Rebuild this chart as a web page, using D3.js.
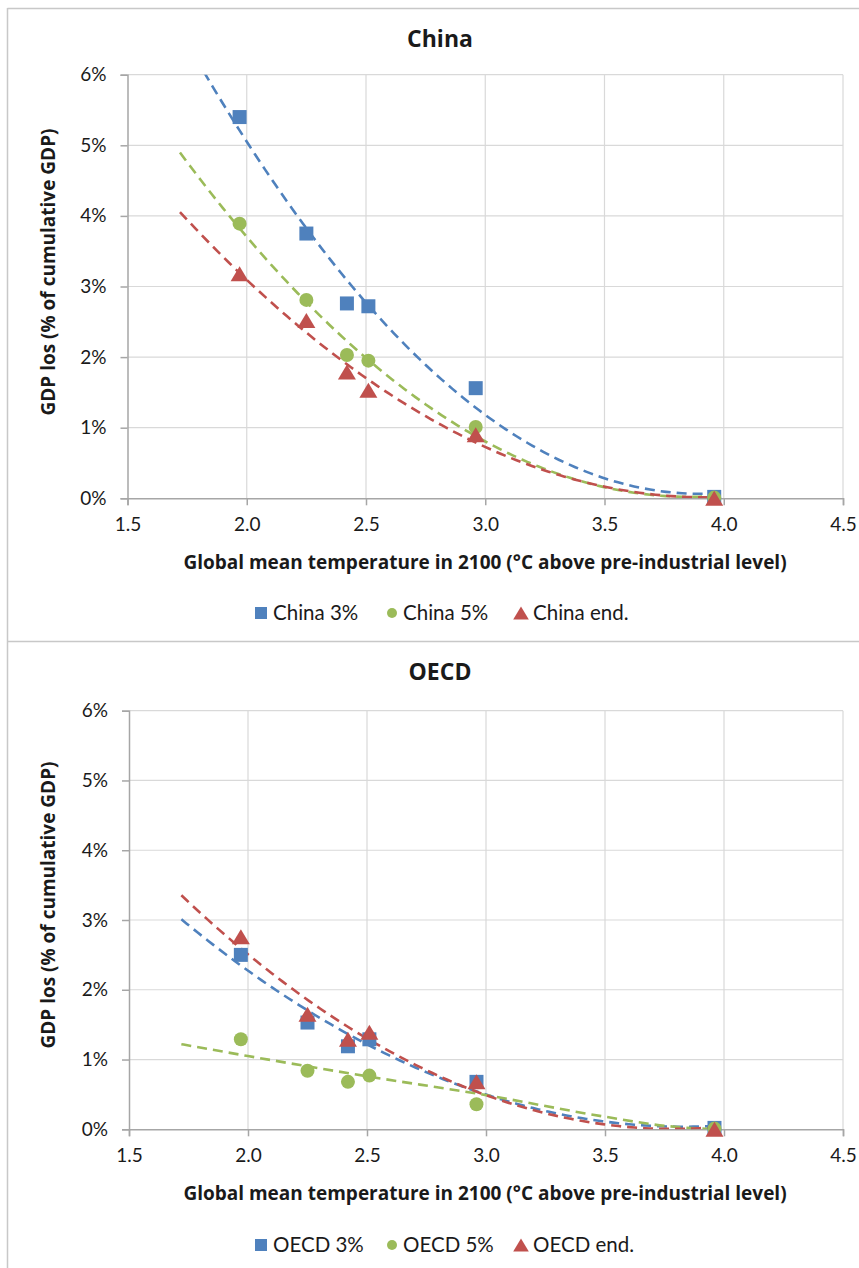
<!DOCTYPE html>
<html>
<head>
<meta charset="utf-8">
<script src="https://cdn.jsdelivr.net/npm/d3@7"></script>
<style>
  html, body { margin: 0; padding: 0; background: #fff; }
  svg { display: block; }
  text { font-family: Lato, "Open Sans", sans-serif; fill: #1a1a1a; }
  text.bold { font-family: "Open Sans", Lato, sans-serif; font-weight: bold; }
</style>
</head>
<body>
<svg id="chart" width="859" height="1268"></svg>
<script>
// ---- Data ----
const temps = [1.97, 2.25, 2.42, 2.51, 2.96, 3.96];
const china3 = [5.40, 3.75, 2.76, 2.72, 1.56, 0.02];
const china5 = [3.89, 2.81, 2.03, 1.95, 1.01, 0.01];
const chinaEnd = [3.18, 2.52, 1.79, 1.53, 0.90, 0.00];
const oecd3 = [2.50, 1.53, 1.19, 1.29, 0.68, 0.02];
const oecd5 = [1.29, 0.84, 0.68, 0.77, 0.36, 0.01];
const oecdEnd = [2.76, 1.65, 1.29, 1.39, 0.68, 0.00];
// OECD 5% trendline (it is not a plain quadratic fit of the points)
const trendTemps = [1.72, 2.0, 2.5, 3.0, 3.5, 3.75, 3.96];
const oecd5Trend = [1.22, 1.05, 0.76, 0.49, 0.18, 0.05, 0.00];
const xTicks = [1.5, 2.0, 2.5, 3.0, 3.5, 4.0, 4.5];
const yTicks = [0, 1, 2, 3, 4, 5, 6];
const chinaNames = ["China 3%", "China 5%", "China end."];
const oecdNames = ["OECD 3%", "OECD 5%", "OECD end."];

const colors = ["#4F81BD", "#9BBB59", "#C0504D"];
const shapes = ["square", "circle", "triangle"];

const svg = d3.select("#chart");

// panel frame lines
svg.append("line").attr("x1", 7.5).attr("x2", 859).attr("y1", 8.5).attr("y2", 8.5)
  .attr("stroke", "#C8C8C8").attr("stroke-width", 1.5);
svg.append("line").attr("x1", 7.5).attr("x2", 859).attr("y1", 641.5).attr("y2", 641.5)
  .attr("stroke", "#C8C8C8").attr("stroke-width", 1.5);
svg.append("line").attr("x1", 7.5).attr("x2", 7.5).attr("y1", 8).attr("y2", 1268)
  .attr("stroke", "#C8C8C8").attr("stroke-width", 1.5);

// quadratic least squares fit (Excel polynomial order-2 trendline)
function quadFit(xs, ys) {
  const n = xs.length, s = [0,0,0,0,0], t = [0,0,0];
  for (let i = 0; i < n; i++) {
    const x = xs[i], y = ys[i];
    let p = 1;
    for (let k = 0; k < 5; k++) { s[k] += p; p *= x; }
    t[0] += y; t[1] += y * x; t[2] += y * x * x;
  }
  const M = [[s[0], s[1], s[2], t[0]], [s[1], s[2], s[3], t[1]], [s[2], s[3], s[4], t[2]]];
  for (let c = 0; c < 3; c++) {
    let piv = c;
    for (let r = c + 1; r < 3; r++) if (Math.abs(M[r][c]) > Math.abs(M[piv][c])) piv = r;
    [M[c], M[piv]] = [M[piv], M[c]];
    for (let r = 0; r < 3; r++) {
      if (r === c) continue;
      const f = M[r][c] / M[c][c];
      for (let k = c; k < 4; k++) M[r][k] -= f * M[c][k];
    }
  }
  const a = M.map((row, i) => row[3] / row[i]);
  return x => a[0] + a[1] * x + a[2] * x * x;
}

function symbolPath(shape, size) {
  if (shape === "square") {
    const h = size / 2;
    return `M${-h},${-h}H${h}V${h}H${-h}Z`;
  } else if (shape === "circle") {
    const r = size / 2;
    return `M${r},0A${r},${r} 0 1,1 ${-r},0A${r},${r} 0 1,1 ${r},0Z`;
  } else {
    const w = size * 1.2 / 2, h = size / 2;
    return `M0,${-h}L${w},${h}L${-w},${h}Z`;
  }
}

function drawPanel(cfg) {
  const g = svg.append("g");
  const x = d3.scaleLinear().domain([1.5, 4.5]).range([cfg.x0, cfg.x1]);
  const y = d3.scaleLinear().domain([0, 6]).range([cfg.y0, cfg.y1]);
  const id = "clip" + cfg.key;

  g.append("clipPath").attr("id", id).append("rect")
    .attr("x", cfg.x0).attr("y", cfg.y1).attr("width", cfg.x1 - cfg.x0).attr("height", cfg.y0 - cfg.y1);

  // gridlines
  g.append("g").selectAll("line").data(yTicks.filter(d => d > 0)).join("line")
    .attr("x1", cfg.x0).attr("x2", cfg.x1)
    .attr("y1", d => y(d)).attr("y2", d => y(d))
    .attr("stroke", "#D9D9D9").attr("stroke-width", 1.2);
  g.append("g").selectAll("line").data(xTicks.filter(d => d > 1.5)).join("line")
    .attr("y1", cfg.y0).attr("y2", cfg.y1)
    .attr("x1", d => x(d)).attr("x2", d => x(d))
    .attr("stroke", "#D9D9D9").attr("stroke-width", 1.2);

  // axes
  const yAxis = d3.axisLeft(y).tickValues(yTicks).tickSize(7).tickPadding(14)
    .tickFormat(d => d + "%");
  const xAxis = d3.axisBottom(x).tickValues(xTicks).tickSize(7).tickPadding(12)
    .tickFormat(d3.format(".1f"));
  const ya = g.append("g").attr("transform", `translate(${cfg.x0},0)`).call(yAxis);
  const xa = g.append("g").attr("transform", `translate(0,${cfg.y0})`).call(xAxis);
  [ya, xa].forEach(a => {
    a.select(".domain").attr("stroke", "#A6A6A6").attr("stroke-width", 1.5);
    a.selectAll(".tick line").attr("stroke", "#A6A6A6").attr("stroke-width", 1.5);
    a.selectAll(".tick text").attr("font-family", "Lato, sans-serif").attr("font-size", 19)
      .attr("fill", "#262626");
  });

  // trendlines
  const tl = g.append("g").attr("clip-path", `url(#${id})`);
  const xmin = d3.min(temps) - 0.25, xmax = d3.max(temps);
  cfg.series.forEach((s, i) => {
    let d;
    if (cfg.trendOverride && cfg.trendOverride[i]) {
      const vals = cfg.trendOverride[i];
      d = d3.line().curve(d3.curveMonotoneX).x((v, k) => x(trendTemps[k])).y(v => y(v))(vals);
    } else {
      const f = quadFit(temps, s);
      const pts = d3.range(0, 101).map(k => xmin + (xmax - xmin) * k / 100);
      d = d3.line().x(v => x(v)).y(v => y(f(v)))(pts);
    }
    tl.append("path").attr("d", d)
      .attr("fill", "none").attr("stroke", colors[i]).attr("stroke-width", 2.6)
      .attr("stroke-dasharray", "10,6");
  });

  // markers
  cfg.series.forEach((s, i) => {
    g.append("g").selectAll("path").data(s).join("path")
      .attr("transform", (d, j) => `translate(${x(temps[j])},${y(d)})`)
      .attr("d", symbolPath(shapes[i], i === 2 ? 15 : 14))
      .attr("fill", colors[i]);
  });

  // titles
  g.append("text").attr("class", "bold").attr("x", cfg.titleX).attr("y", cfg.titleY)
    .attr("text-anchor", "middle").attr("font-size", 23).text(cfg.title);
  g.append("text").attr("class", "bold").attr("x", cfg.xTitleX).attr("y", cfg.xTitleY)
    .attr("text-anchor", "middle").attr("font-size", 19)
    .text("Global mean temperature in 2100 (°C above pre-industrial level)");
  g.append("text").attr("class", "bold")
    .attr("transform", `translate(${cfg.yTitleX},${cfg.yTitleY}) rotate(-90)`)
    .attr("text-anchor", "middle").attr("font-size", 19)
    .text("GDP los (% of cumulative GDP)");

  // legend
  const lg = g.append("g").attr("transform", `translate(0,${cfg.legendY})`);
  const lx = [261, 392, 521];
  cfg.names.forEach((n, i) => {
    lg.append("path").attr("transform", `translate(${lx[i]},0)`)
      .attr("d", symbolPath(shapes[i], i === 0 ? 12 : (i === 1 ? 10 : 13)))
      .attr("fill", colors[i]);
    lg.append("text").attr("x", lx[i] + (i === 1 ? 11 : 12)).attr("y", 7)
      .attr("font-size", 20.5).attr("fill", "#262626").text(n);
  });
}

drawPanel({
  key: "china", title: "China", series: [china3, china5, chinaEnd], names: chinaNames,
  x0: 127.5, x1: 843, y0: 498.3, y1: 74.7,
  titleX: 440, titleY: 47, xTitleX: 485, xTitleY: 568.5, yTitleX: 54.5, yTitleY: 272, legendY: 613
});
drawPanel({
  key: "oecd", title: "OECD", series: [oecd3, oecd5, oecdEnd], names: oecdNames,
  trendOverride: {1: oecd5Trend},
  x0: 129, x1: 843, y0: 1129.3, y1: 710.7,
  titleX: 440, titleY: 680, xTitleX: 485, xTitleY: 1200, yTitleX: 54.5, yTitleY: 905, legendY: 1245
});
</script>
</body>
</html>
